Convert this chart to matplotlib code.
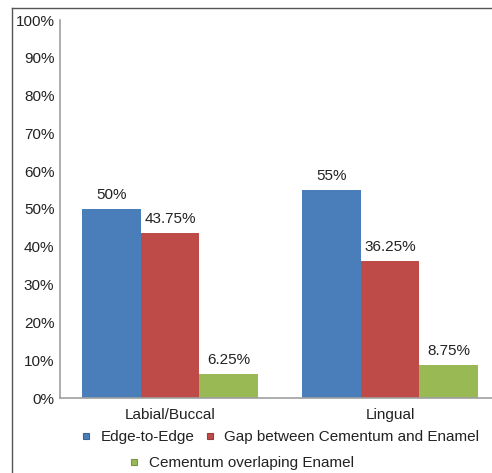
import matplotlib
matplotlib.use("Agg")
import matplotlib.pyplot as plt
import numpy as np
from matplotlib.lines import Line2D

plt.rcParams["font.family"] = ["Liberation Sans", "DejaVu Sans"]
plt.rcParams["font.size"] = 11

categories = ["Labial/Buccal", "Lingual"]
series_names = ["Edge-to-Edge", "Gap between Cementum and Enamel", "Cementum overlaping Enamel"]
edge_to_edge = [50, 55]
gap = [43.75, 36.25]
overlap = [6.25, 8.75]
value_labels = [["50%", "55%"], ["43.75%", "36.25%"], ["6.25%", "8.75%"]]
colors = ["#4A7EBB", "#BE4B48", "#98B954"]
edge_colors = ["#3A6496", "#9A3B39", "#7A9544"]

fig = plt.figure(figsize=(4.92, 4.73), dpi=100)
# plot area is cut off by the right edge of the picture
ax = fig.add_axes([60 / 492, 1 - 398 / 473, 432 / 492, 378 / 473])

x = np.arange(len(categories))
width = 0.267
for i, (vals, col) in enumerate(zip([edge_to_edge, gap, overlap], colors)):
    bars = ax.bar(x + (i - 1) * width, vals, width, color=col, label=series_names[i])
    for b, lab in zip(bars, value_labels[i]):
        ax.annotate(lab, (b.get_x() + b.get_width() / 2, b.get_height()),
                    xytext=(0, 5), textcoords="offset points",
                    ha="center", va="bottom", color="#222222")

ax.set_xlim(-0.5, 1.5 - 8 / 220)
ax.set_ylim(0, 100)
ax.set_yticks(np.arange(0, 101, 10))
ax.set_yticklabels([f"{v}%" for v in range(0, 101, 10)])
ax.set_xticks(x)
ax.set_xticklabels(categories)
ax.tick_params(axis="both", length=0, colors="#222222")
ax.tick_params(axis="y", pad=4)
ax.tick_params(axis="x", pad=7)
ax.spines[["top", "right"]].set_visible(False)
for s in ["left", "bottom"]:
    ax.spines[s].set_color("#A0A0A0")
    ax.spines[s].set_linewidth(1.2)

# outer chart border: only top and left edges are inside the picture
top = 1 - 8.5 / 473
left = 11.5 / 492
fig.add_artist(Line2D([left, 1.05], [top, top], transform=fig.transFigure,
                      color="#555555", linewidth=1.0))
fig.add_artist(Line2D([left, left], [-0.05, top], transform=fig.transFigure,
                      color="#555555", linewidth=1.0))

def handle(c, ec):
    return Line2D([], [], marker="s", linestyle="none", markersize=5,
                  markerfacecolor=c, markeredgecolor=ec, markeredgewidth=0.8)

leg1 = fig.legend([handle(colors[0], edge_colors[0]), handle(colors[1], edge_colors[1])],
                  series_names[:2], ncol=2, loc="center", bbox_to_anchor=(279 / 492, 1 - 437 / 473),
                  frameon=False, handletextpad=0.45, columnspacing=0.5, handlelength=1.0)
leg2 = fig.legend([handle(colors[2], edge_colors[2])], series_names[2:], loc="center",
                  bbox_to_anchor=(240 / 492, 1 - 463 / 473), frameon=False,
                  handletextpad=0.45, handlelength=1.0)
for leg in (leg1, leg2):
    for t in leg.get_texts():
        t.set_color("#222222")

fig.savefig("out.png", dpi=100)
